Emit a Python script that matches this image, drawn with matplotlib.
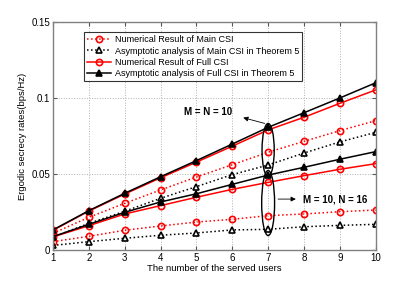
import matplotlib
matplotlib.use("Agg")
import matplotlib.pyplot as plt
from matplotlib.patches import Ellipse

users = [1, 2, 3, 4, 5, 6, 7, 8, 9, 10]

# M = N = 10
main_num_10 = [0.0110, 0.0215, 0.0307, 0.0395, 0.0480, 0.0561, 0.0643, 0.0715, 0.0785, 0.0851]
main_asy_10 = [0.0085, 0.0175, 0.0255, 0.0340, 0.0417, 0.0496, 0.0559, 0.0638, 0.0711, 0.0774]
full_num_10 = [0.0130, 0.0256, 0.0368, 0.0475, 0.0578, 0.0683, 0.0790, 0.0873, 0.0965, 0.1053]
full_asy_10 = [0.0132, 0.0259, 0.0373, 0.0482, 0.0588, 0.0697, 0.0807, 0.0903, 0.1000, 0.1100]

# M = 10, N = 16
main_num_16 = [0.0055, 0.0090, 0.0130, 0.0158, 0.0184, 0.0202, 0.0226, 0.0237, 0.0252, 0.0263]
main_asy_16 = [0.0030, 0.0055, 0.0077, 0.0097, 0.0112, 0.0132, 0.0136, 0.0153, 0.0162, 0.0169]
full_num_16 = [0.0086, 0.0160, 0.0237, 0.0292, 0.0347, 0.0399, 0.0445, 0.0489, 0.0531, 0.0568]
full_asy_16 = [0.0088, 0.0169, 0.0248, 0.0316, 0.0370, 0.0432, 0.0493, 0.0544, 0.0597, 0.0647]

labels = ["Numerical Result of Main CSI",
          "Asymptotic analysis of Main CSI in Theorem 5",
          "Numerical Result of Full CSI",
          "Asymptotic analysis of Full CSI in Theorem 5"]

plt.rcParams['font.family'] = ['Liberation Sans', 'DejaVu Sans']

fig = plt.figure(figsize=(4.15, 2.83), dpi=100)
ax = fig.add_axes([0.1277, 0.1166, 0.7776, 0.8057])

ms = 4.5
mew = 1.2
lw = 1.1

def style(kind):
    if kind == 0:
        return dict(color='red', linestyle=':', marker='o', markersize=ms,
                    markerfacecolor='none', markeredgecolor='red', markeredgewidth=mew, linewidth=lw)
    if kind == 1:
        return dict(color='black', linestyle=':', marker='^', markersize=ms,
                    markerfacecolor='white', markeredgecolor='black', markeredgewidth=mew, linewidth=lw)
    if kind == 2:
        return dict(color='red', linestyle='-', marker='o', markersize=ms,
                    markerfacecolor='none', markeredgecolor='red', markeredgewidth=mew, linewidth=lw)
    return dict(color='black', linestyle='-', marker='^', markersize=ms,
                markerfacecolor='black', markeredgecolor='black', markeredgewidth=mew, linewidth=lw)

h0, = ax.plot(users, main_num_10, **style(0), label=labels[0])
h1, = ax.plot(users, main_asy_10, **style(1), label=labels[1])
h2, = ax.plot(users, full_num_10, **style(2), label=labels[2])
h3, = ax.plot(users, full_asy_10, **style(3), label=labels[3])
ax.plot(users, main_num_16, **style(0))
ax.plot(users, main_asy_16, **style(1))
ax.plot(users, full_num_16, **style(2))
ax.plot(users, full_asy_16, **style(3))

ax.set_xlim(1, 10)
ax.set_ylim(0, 0.15)
ax.set_xticks(users)
ax.set_yticks([0, 0.05, 0.1, 0.15])
ax.set_yticklabels(["0", "0.05", "0.1", "0.15"])
ax.tick_params(direction='in', labelsize=7, length=3, color='#555555', pad=2,
               top=True, right=True)
ax.grid(True, linestyle=':', color='#b0b0b0', linewidth=0.7)
for sp in ax.spines.values():
    sp.set_color('#808080')
    sp.set_linewidth(1.0)

ax.set_xlabel("The number of the served users", fontsize=6.8, labelpad=1)
ax.set_ylabel("Ergodic secrecy rates(bps/Hz)", fontsize=6.8, labelpad=3)

leg = ax.legend(handles=[h0, h1, h2, h3], loc='upper left', bbox_to_anchor=(0.095, 0.955),
                fontsize=6.45, frameon=True, fancybox=False, edgecolor='black',
                handlelength=2.7, labelspacing=0.25, borderpad=0.35, handletextpad=0.4,
                borderaxespad=0)
leg.get_frame().set_linewidth(0.8)

# Ellipses at x=7
ax.add_patch(Ellipse((7, 0.0658), 0.34, 0.0349, fill=False, edgecolor='black', linewidth=1.0, zorder=5))
ax.add_patch(Ellipse((7, 0.0309), 0.36, 0.0428, fill=False, edgecolor='black', linewidth=1.0, zorder=5))

ax.annotate("", xy=(6.23, 0.0875), xytext=(6.98, 0.0828),
            arrowprops=dict(arrowstyle='-|>', color='black', lw=0.6, mutation_scale=7))
ax.text(6.0, 0.0905, "M = N = 10", fontsize=7, fontweight='bold', ha='right', va='center')

ax.annotate("", xy=(7.85, 0.0335), xytext=(7.2, 0.0335),
            arrowprops=dict(arrowstyle='-|>', color='black', lw=0.6, mutation_scale=7))
ax.text(7.98, 0.0335, "M = 10, N = 16", fontsize=7, fontweight='bold', ha='left', va='center')

fig.savefig("out.png", dpi=100)
